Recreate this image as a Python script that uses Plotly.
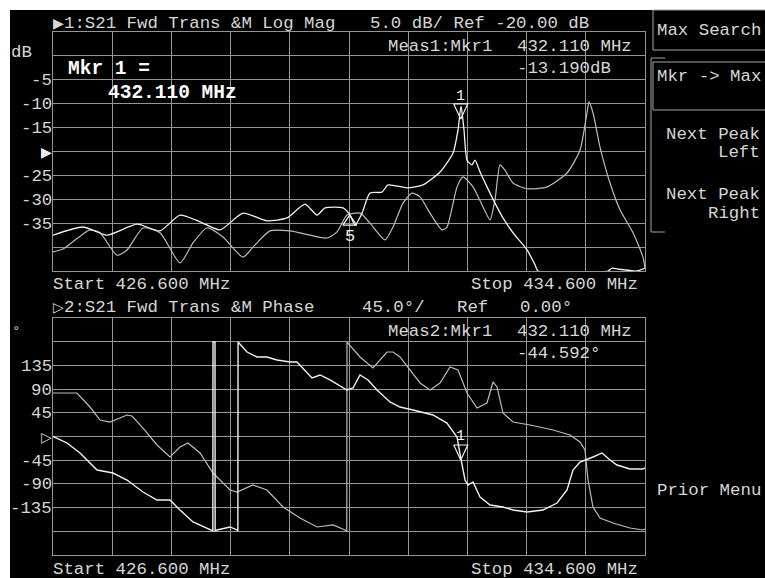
import plotly.graph_objects as go

W, H = 765, 578

# ---------------- data ----------------
freq_start, freq_stop, freq_div = 426.6, 434.6, 0.8
mag_top, mag_bottom, mag_div = 5.0, -45.0, 5.0
ph_top, ph_bottom, ph_div = 225.0, -225.0, 45.0

# Channel 1 (Log Mag) - data trace (bright)
mag_a_freq = [426.600, 427.005, 427.330, 427.735, 428.046, 428.316, 428.587, 428.857, 429.168, 429.492,
              429.762, 430.006, 430.168, 430.276, 430.519, 430.614, 430.681, 430.776, 430.884, 431.046,
              431.127, 431.384, 431.600, 431.830, 432.006, 432.073, 432.114, 432.154, 432.195, 432.262,
              432.303, 432.371, 432.465, 432.573, 432.681, 432.816, 433.006, 433.114, 433.154, 434.100,
              434.154, 434.235, 434.492, 434.600]
mag_a_db = [-37.5, -35.8, -37.5, -35.2, -36.6, -33.3, -34.7, -36.4, -32.9, -34.5,
            -33.9, -31.0, -33.3, -31.8, -31.8, -33.3, -35.4, -32.9, -28.7, -28.5,
            -27.0, -27.6, -27.0, -24.3, -20.3, -15.5, -10.5, -15.5, -21.8, -22.8,
            -21.8, -24.3, -27.4, -30.8, -33.9, -37.0, -40.6, -43.7, -45.0, -45.0,
            -44.4, -44.6, -45.0, -44.4]

# Channel 1 (Log Mag) - memory trace (dim)
mag_b_freq = [426.600, 426.735, 427.100, 427.235, 427.465, 427.600, 427.816, 428.046, 428.316, 428.492,
              428.681, 428.897, 429.168, 429.303, 429.532, 429.803, 430.303, 430.438, 430.573, 430.749,
              430.884, 431.087, 431.195, 431.330, 431.451, 431.560, 431.695, 431.857, 431.924, 432.060,
              432.141, 432.276, 432.411, 432.506, 432.573, 432.641, 432.708, 432.816, 433.006, 433.276,
              433.546, 433.722, 433.816, 433.843, 433.897, 433.992, 434.127, 434.262, 434.438, 434.573,
              434.600]
mag_b_db = [-41.0, -40.4, -36.4, -37.0, -41.7, -40.6, -36.0, -37.0, -43.3, -39.1,
            -36.0, -37.9, -42.1, -40.0, -36.6, -36.6, -38.1, -36.8, -33.3, -32.9,
            -35.0, -38.5, -35.8, -30.8, -28.7, -29.5, -32.9, -36.4, -35.8, -27.4,
            -25.3, -27.4, -31.6, -34.3, -30.1, -22.8, -23.9, -26.6, -27.8, -27.4,
            -24.5, -19.7, -11.9, -9.6, -11.9, -19.1, -26.6, -32.2, -37.0, -42.1,
            -44.4]

# Channel 2 (Phase) - data trace (bright)
ph_q_freq = [426.600, 426.789, 426.965, 427.195, 427.411, 427.600, 427.816, 428.006, 428.181, 428.316,
             428.492, 428.722, 428.760, 428.762, 428.789, 428.791, 428.816, 428.992, 429.087, 429.098,
             429.101, 429.222, 429.357, 429.492, 429.627, 429.803, 429.897, 430.100, 430.208, 430.343,
             430.573, 430.654, 430.749, 430.857, 430.978, 431.154, 431.289, 431.465, 431.735, 431.924,
             432.060, 432.115, 432.168, 432.208, 432.276, 432.371, 432.506, 432.681, 432.816, 433.006,
             433.222, 433.411, 433.546, 433.627, 433.722, 433.897, 434.019, 434.127, 434.222, 434.397,
             434.573, 434.600]
ph_q_deg = [0.0, -12.3, -31.3, -63.6, -69.3, -82.6, -105.4, -120.6, -120.6, -139.6,
            -162.3, -177.5, -179.4, 179.5, 179.5, -179.5, -177.5, -171.8, -177.5, -179.8,
            179.4, 160.4, 151.0, 151.0, 145.3, 141.5, 141.5, 111.1, 116.8, 107.3,
            88.3, 92.1, 116.8, 107.3, 88.3, 65.5, 56.0, 50.3, 40.8, 25.6,
            -0.9, -44.6, -82.6, -92.1, -86.4, -114.9, -130.1, -133.9, -139.6, -143.4,
            -139.6, -126.3, -101.6, -63.6, -48.4, -38.9, -31.3, -44.6, -54.1, -61.7,
            -61.7, -59.8]

# Channel 2 (Phase) - memory trace (dim)
ph_p_freq = [426.600, 426.924, 427.100, 427.235, 427.370, 427.600, 427.668, 427.816, 428.006, 428.181,
             428.316, 428.424, 428.587, 428.762, 428.992, 429.087, 429.303, 429.492, 429.708, 429.938,
             430.168, 430.384, 430.546, 430.570, 430.573, 430.749, 430.924, 431.114, 431.195, 431.289,
             431.424, 431.560, 431.695, 431.830, 431.965, 432.073, 432.195, 432.330, 432.465, 432.546,
             432.600, 432.681, 432.816, 433.046, 433.357, 433.587, 433.722, 433.789, 433.830, 433.897,
             433.992, 434.168, 434.397, 434.573, 434.600]
ph_p_deg = [82.6, 82.6, 56.0, 31.3, 27.5, 40.8, 38.9, 16.1, -16.1, -38.9,
            -19.9, -12.3, -31.3, -69.3, -101.6, -105.4, -92.1, -101.6, -133.9, -154.7,
            -171.8, -168.0, -177.5, -179.8, 179.4, 151.0, 130.1, 160.4, 160.4, 151.0,
            126.3, 101.6, 88.3, 101.6, 132.0, 126.3, 82.6, 54.1, 63.6, 103.5,
            94.0, 44.6, 27.5, 21.8, 12.3, 2.8, -10.4, -25.6, -82.6, -133.9,
            -154.7, -164.2, -173.7, -177.5, -175.6]

mkr1_freq = 432.110
mkr1_db = -13.190
mkr1_deg = -44.592
mkr5_freq = 430.61
mkr5_db = -33.3

mag_labels = ["-5", "-10", "-15", "-25", "-30", "-35"]
mag_label_vals = [-5, -10, -15, -25, -30, -35]
ph_labels = ["135", "90", "45", "-45", "-90", "-135"]
ph_label_vals = [135, 90, 45, -45, -90, -135]

# ---------------- layout geometry (pixels) ----------------
GX0, GX1 = 53, 645
U_TOP, U_BOT = 32, 271
L_TOP, L_BOT = 318, 555


def px(x):
    return x / W


def py(y):
    return 1 - y / H


GRID = "#959595"
TXT = "#d6d6d6"
BRIGHT = "#f2f2f2"
DIM = "#bcbcbc"
MONO = "Liberation Mono, DejaVu Sans Mono, monospace"
SYM = "DejaVu Sans"

fig = go.Figure()

# traces
fig.add_trace(go.Scatter(x=mag_b_freq, y=mag_b_db, mode="lines", xaxis="x", yaxis="y",
                         line=dict(color=DIM, width=1.2, shape="spline", smoothing=0.6)))
fig.add_trace(go.Scatter(x=mag_a_freq, y=mag_a_db, mode="lines", xaxis="x", yaxis="y",
                         line=dict(color=BRIGHT, width=1.3, shape="spline", smoothing=0.6)))
fig.add_trace(go.Scatter(x=ph_p_freq, y=ph_p_deg, mode="lines", xaxis="x2", yaxis="y2",
                         line=dict(color=DIM, width=1.2)))
fig.add_trace(go.Scatter(x=ph_q_freq, y=ph_q_deg, mode="lines", xaxis="x2", yaxis="y2",
                         line=dict(color=BRIGHT, width=1.4)))

# marker triangles (sizes in pixels converted to data units)
mhz_px = (freq_stop - freq_start) / (GX1 - GX0)
db_px = (mag_top - mag_bottom) / (U_BOT - U_TOP)
deg_px = (ph_top - ph_bottom) / (L_BOT - L_TOP)


def tri_down(f, v, hw, h, vpx):
    return ([f - hw * mhz_px, f + hw * mhz_px, f, f - hw * mhz_px],
            [v + h * vpx, v + h * vpx, v, v + h * vpx])


def tri_up(f, v, hw, h, vpx):
    return ([f - hw * mhz_px, f + hw * mhz_px, f, f - hw * mhz_px],
            [v - h * vpx, v - h * vpx, v, v - h * vpx])


tx, ty = tri_down(mkr1_freq, mkr1_db, 7, 15, db_px)
fig.add_trace(go.Scatter(x=tx, y=ty, mode="lines", xaxis="x", yaxis="y",
                         line=dict(color=BRIGHT, width=1.2)))
tx, ty = tri_up(mkr5_freq, mkr5_db, 7, 10, db_px)
fig.add_trace(go.Scatter(x=tx, y=ty, mode="lines", xaxis="x", yaxis="y",
                         line=dict(color=BRIGHT, width=1.2)))
tx, ty = tri_down(mkr1_freq, mkr1_deg, 7, 15, deg_px)
fig.add_trace(go.Scatter(x=tx, y=ty, mode="lines", xaxis="x2", yaxis="y2",
                         line=dict(color=BRIGHT, width=1.2)))

axis_common = dict(showticklabels=False, showgrid=True, gridcolor=GRID, gridwidth=1,
                   showline=True, linecolor=GRID, linewidth=1, mirror=True, zeroline=False,
                   ticks="", fixedrange=True)

fig.update_layout(
    width=W, height=H, autosize=False,
    margin=dict(l=0, r=0, t=0, b=0),
    paper_bgcolor="white", plot_bgcolor="black",
    showlegend=False,
    xaxis=dict(domain=[px(GX0), px(GX1)], range=[freq_start, freq_stop], tick0=freq_start,
               dtick=freq_div, anchor="y", **axis_common),
    yaxis=dict(domain=[py(U_BOT), py(U_TOP)], range=[mag_bottom, mag_top], tick0=mag_bottom,
               dtick=mag_div, anchor="x", **axis_common),
    xaxis2=dict(domain=[px(GX0), px(GX1)], range=[freq_start, freq_stop], tick0=freq_start,
                dtick=freq_div, anchor="y2", **axis_common),
    yaxis2=dict(domain=[py(L_BOT), py(L_TOP)], range=[ph_bottom, ph_top], tick0=ph_bottom,
                dtick=ph_div, anchor="x2", **axis_common),
)

shapes = []
# black screen area (white border top/left)
shapes.append(dict(type="rect", xref="paper", yref="paper", x0=px(10), x1=px(W + 2),
                   y0=py(H + 2), y1=py(10), fillcolor="black", line=dict(width=0), layer="below"))
# softkey boxes
for (x0, y0, x1, y1) in [(653, 10, W + 3, 50), (653, 62, W + 3, 110)]:
    shapes.append(dict(type="rect", xref="paper", yref="paper", x0=px(x0), x1=px(x1),
                       y0=py(y1), y1=py(y0), line=dict(color="#a6a6a6", width=1)))
# bracket
shapes.append(dict(type="path", xref="paper", yref="paper",
                   path=f"M{px(665)},{py(58)} L{px(651)},{py(58)} L{px(651)},{py(232)} L{px(665)},{py(232)}",
                   line=dict(color="#a6a6a6", width=1)))
fig.update_layout(shapes=shapes)

ann = []


def text(t, x, y, anchor="left", size=17.4, color=TXT, family=MONO):
    ann.append(dict(text=t, x=px(x), y=py(y), xref="paper", yref="paper", xanchor=anchor,
                    yanchor="middle", showarrow=False, font=dict(family=family, size=size, color=color)))


# channel 1 header and footer
text("▶", 51, 23, size=14, family=SYM, color=TXT)
text("1:S21 Fwd Trans &M Log Mag", 62, 23)
text("5.0 dB/ Ref -20.00 dB", 368, 23)
text("Meas1:Mkr1", 386, 46)
text("432.110 MHz", 515, 46)
text("-13.190dB", 515, 68)
text("Start 426.600 MHz", 51, 284)
text("Stop 434.600 MHz", 640, 284, anchor="right")
text("<b>Mkr 1 =</b>", 66, 69, size=19.5, color="white")
text("<b>432.110 MHz</b>", 106, 93, size=19.5, color="white")
text("dB", 9, 52)
for lab, v in zip(mag_labels, mag_label_vals):
    yy = U_TOP + (mag_top - v) / db_px
    text(lab, 54, yy + 1, anchor="right")
text("▶", 54, 152, anchor="right", size=14, family=SYM, color="#f0f0f0")

# channel 2 header and footer
text("▷", 51, 307, size=14, family=SYM)
text("2:S21 Fwd Trans &M Phase", 62, 307)
text("45.0°/", 360, 307)
text("Ref", 455, 307)
text("0.00°", 518, 307)
text("Meas2:Mkr1", 386, 331)
text("432.110 MHz", 515, 331)
text("-44.592°", 515, 353)
text("Start 426.600 MHz", 51, 569)
text("Stop 434.600 MHz", 640, 569, anchor="right")
text("°", 10, 332, size=14)
for lab, v in zip(ph_labels, ph_label_vals):
    yy = L_TOP + (ph_top - v) / deg_px
    text(lab, 54, yy + 1, anchor="right")
text("▷", 54, 437, anchor="right", size=14, family=SYM)

# softkeys
text("Max Search", 655, 30)
text("Mkr -> Max", 655, 77)
text("Next Peak", 762, 134, anchor="right")
text("Left", 762, 153, anchor="right")
text("Next Peak", 762, 194, anchor="right")
text("Right", 762, 213, anchor="right")
text("Prior Menu", 655, 490)

# marker numbers (positioned from marker data)
for xr, yr, f, v, dy in [("x", "y", mkr1_freq, mkr1_db, 22), ("x", "y", mkr5_freq, mkr5_db, -21),
                         ("x2", "y2", mkr1_freq, mkr1_deg, 23)]:
    ann.append(dict(text="1" if dy > 0 else "5", x=f, y=v, xref=xr, yref=yr, yshift=dy,
                    xanchor="center", yanchor="middle", showarrow=False,
                    font=dict(family=MONO, size=15 if dy > 0 else 17, color=BRIGHT)))

fig.update_layout(annotations=ann)

fig.write_html("out.html", config={"displayModeBar": False},
               post_script="document.body.style.margin='0px';document.body.style.overflow='hidden';")
